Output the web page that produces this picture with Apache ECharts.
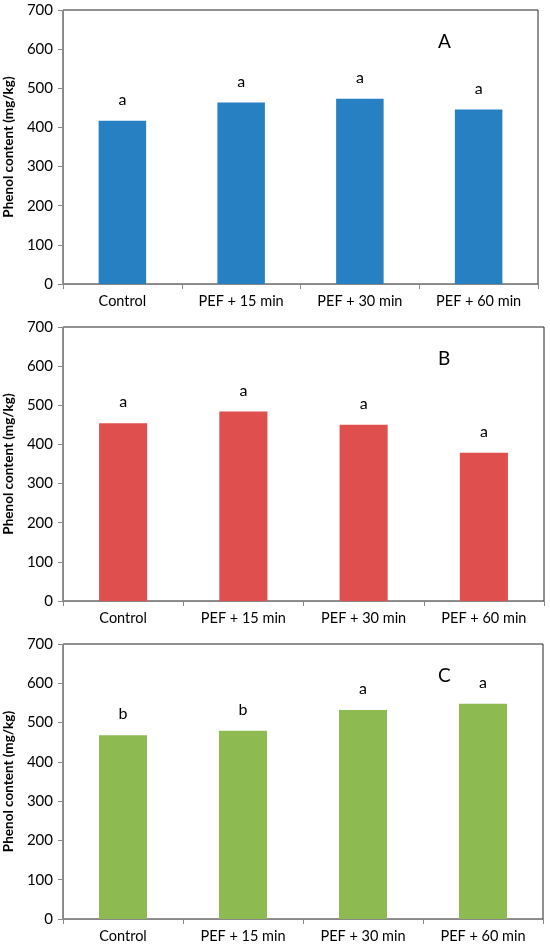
<!DOCTYPE html>
<html>
<head>
<meta charset="utf-8">
<script src="https://cdn.jsdelivr.net/npm/echarts@6/dist/echarts.min.js"></script>
<style>
  html, body { margin: 0; padding: 0; background: #fff; }
  #container { width: 550px; height: 949px; }
</style>
</head>
<body>
<div id="container"></div>
<script>
var categories = ['Control', 'PEF + 15 min', 'PEF + 30 min', 'PEF + 60 min'];
var yTicks = [0, 100, 200, 300, 400, 500, 600, 700];

var panelNames = ['A', 'B', 'C'];
var valuesA = [417, 464, 473, 446];
var valuesB = [454, 484, 450, 379];
var valuesC = [468, 479, 532, 548];
var lettersA = ['a', 'a', 'a', 'a'];
var lettersB = ['a', 'a', 'a', 'a'];
var lettersC = ['b', 'b', 'a', 'a'];

var dom = document.getElementById('container');
var myChart = echarts.init(dom);

var fontFam = 'Lato, "Open Sans", sans-serif';
var colors = ['#2680c2', '#df4f4e', '#8dbb51'];
var allValues = [valuesA, valuesB, valuesC];
var allLetters = [lettersA, lettersB, lettersC];

// panel boxes
var grids = [
    {left: 63, top: 10, right: 12, height: 274},
    {left: 63, top: 327, right: 6, height: 274},
    {left: 63, top: 644, right: 7, height: 275}
];

var option = {
    animation: false,
    backgroundColor: '#fff',
    textStyle: {fontFamily: fontFam},
    title: [],
    grid: [],
    xAxis: [],
    yAxis: [],
    series: []
};

for (var i = 0; i < 3; i++) {
    option.grid.push({
        left: grids[i].left,
        top: grids[i].top,
        right: grids[i].right,
        height: grids[i].height,
        outerBoundsMode: 'none',
        containLabel: false,
        show: true,
        borderColor: '#222',
        borderWidth: 1
    });
    option.title.push({
        text: panelNames[i],
        left: 433,
        top: grids[i].top + 17,
        textStyle: {fontFamily: fontFam, fontSize: 19, fontWeight: 'normal', color: '#000'}
    });
    option.xAxis.push({
        type: 'category',
        gridIndex: i,
        data: categories,
        axisLine: {lineStyle: {color: '#888', width: 1}},
        axisTick: {show: true, length: 5, lineStyle: {color: '#888'}},
        axisLabel: {color: '#000', fontSize: 14.5, margin: 10, fontFamily: fontFam}
    });
    option.yAxis.push({
        type: 'value',
        gridIndex: i,
        min: yTicks[0],
        max: yTicks[yTicks.length - 1],
        interval: 100,
        name: 'Phenol content (mg/kg)',
        nameLocation: 'middle',
        nameGap: 38,
        nameTextStyle: {fontSize: 13.5, fontWeight: 'bold', color: '#000', fontFamily: fontFam},
        axisLine: {show: true, lineStyle: {color: '#888', width: 1}},
        axisTick: {show: true, length: 5, lineStyle: {color: '#888'}},
        axisLabel: {color: '#000', fontSize: 15, margin: 10, fontFamily: fontFam},
        splitLine: {show: false}
    });
    option.series.push({
        type: 'bar',
        xAxisIndex: i,
        yAxisIndex: i,
        data: allValues[i],
        barWidth: '40%',
        itemStyle: {color: colors[i]},
        label: {
            show: true,
            position: 'top',
            distance: 13,
            color: '#000',
            fontSize: 16,
            fontFamily: fontFam,
            formatter: (function (letters) {
                return function (p) { return letters[p.dataIndex]; };
            })(allLetters[i])
        }
    });
}

myChart.setOption(option);
window.onresize = myChart.resize;
</script>
</body>
</html>
